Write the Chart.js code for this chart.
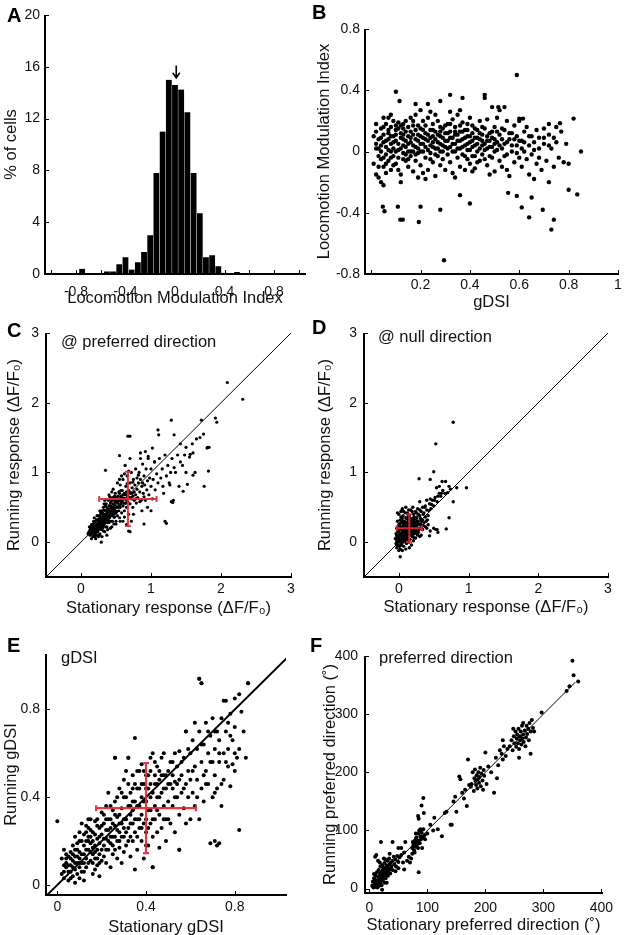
<!DOCTYPE html>
<html>
<head>
<meta charset="utf-8">
<script src="https://cdn.jsdelivr.net/npm/chart.js@4.4.1/dist/chart.umd.min.js"></script>
<style>
  body { margin: 0; background: #fff; width: 626px; height: 935px; position: relative; overflow: hidden;
         font-family: "Liberation Sans", Arial, sans-serif; color: #111; }
  canvas { position: absolute; }
  .letter { position: absolute; font-size: 20px; line-height: 20px; font-weight: bold; color: #000; }
  .note { position: absolute; font-size: 16.5px; line-height: 16.5px; white-space: nowrap; }
  .ax { position: absolute; background: #000; z-index: 5; }
</style>
</head>
<body>
<canvas id="cA" width="313" height="315" style="left:0;top:0"></canvas>
<canvas id="cB" width="313" height="315" style="left:313px;top:0"></canvas>
<canvas id="cC" width="313" height="310" style="left:0;top:315px"></canvas>
<canvas id="cD" width="313" height="310" style="left:313px;top:315px"></canvas>
<canvas id="cE" width="313" height="312" style="left:0;top:625px"></canvas>
<canvas id="cF" width="313" height="312" style="left:313px;top:625px"></canvas>

<!-- axis frames (box off): left and bottom edges of each plot area -->
<div class="ax" style="left:44px;top:15px;width:2px;height:260px"></div>
<div class="ax" style="left:44px;top:273px;width:262px;height:2px"></div>
<div class="ax" style="left:364px;top:29px;width:2px;height:246px"></div>
<div class="ax" style="left:364px;top:273px;width:255px;height:2px"></div>
<div class="ax" style="left:45px;top:333px;width:2px;height:245px"></div>
<div class="ax" style="left:45px;top:576px;width:247px;height:2px"></div>
<div class="ax" style="left:363px;top:333px;width:2px;height:245px"></div>
<div class="ax" style="left:363px;top:576px;width:246px;height:2px"></div>
<div class="ax" style="left:45px;top:654px;width:2px;height:242px"></div>
<div class="ax" style="left:45px;top:894px;width:242px;height:2px"></div>
<div class="ax" style="left:364px;top:656px;width:2px;height:238px"></div>
<div class="ax" style="left:364px;top:892px;width:239px;height:2px"></div>

<div class="letter" style="left:7px;top:5px">A</div>
<div class="letter" style="left:312px;top:2px">B</div>
<div class="letter" style="left:7px;top:320px">C</div>
<div class="letter" style="left:312px;top:317px">D</div>
<div class="letter" style="left:7px;top:635px">E</div>
<div class="letter" style="left:310px;top:635px">F</div>

<div class="note" style="left:61px;top:333px">@ preferred direction</div>
<div class="note" style="left:378px;top:328px">@ null direction</div>
<div class="note" style="left:61px;top:649px">gDSI</div>
<div class="note" style="left:379px;top:649px">preferred direction</div>

<script>
// A: histogram of locomotion modulation index
const binCenters = [-1,-0.95,-0.9,-0.85,-0.8,-0.75,-0.7,-0.65,-0.6,-0.55,-0.5,-0.45,-0.4,-0.35,-0.3,-0.25,-0.2,-0.15,-0.1,-0.05,
  0,0.05,0.1,0.15,0.2,0.25,0.3,0.35,0.4,0.45,0.5,0.55,0.6,0.65,0.7,0.75,0.8,0.85,0.9,0.95,1];
const pctCells = [0,0,0,0,0,0.4,0,0,0,0.2,0.2,0.75,1.3,0.35,0.9,1.7,3.0,7.8,11.0,15.0,
  14.6,14.25,12.5,7.8,4.7,1.3,1.45,0.6,0.1,0,0.15,0,0,0,0,0,0,0,0,0,0];
const meanArrow = { x: 0.01, from: 16.1, to: 15.15 };

// B: gDSI vs modulation index
const ptsB = [
  [0.01,0.10],[0.01,-0.08],[0.02,0.05],[0.02,0.13],[0.03,0.02],[0.03,-0.03],[0.03,0.08],[0.04,0.15],[0.04,-0.05],[0.04,0.0],
  [0.05,0.06],[0.05,0.11],[0.05,-0.1],[0.06,0.03],[0.06,0.18],[0.06,-0.02],[0.07,0.08],[0.07,0.12],[0.07,-0.06],[0.08,0.0],
  [0.08,0.05],[0.08,0.16],[0.08,-0.12],[0.09,0.1],[0.09,-0.03],[0.09,0.02],[0.1,0.14],[0.1,0.07],[0.1,-0.08],[0.11,0.01],
  [0.11,0.19],[0.11,-0.04],[0.12,0.09],[0.12,0.12],[0.12,-0.15],[0.13,0.04],[0.13,-0.01],[0.13,0.15],[0.14,0.07],[0.14,-0.06],
  [0.14,0.2],[0.15,0.1],[0.15,0.0],[0.15,-0.1],[0.15,0.05],[0.02,-0.15],[0.03,-0.17],[0.04,-0.2],[0.05,-0.22],[0.06,-0.14],
  [0.07,0.22],[0.05,0.22],[0.08,0.24],[0.12,-0.2],[0.1,0.17],[0.13,0.18],
  [0.16,0.13],[0.16,-0.03],[0.16,0.06],[0.17,0.17],[0.17,0.0],[0.17,-0.13],[0.18,0.08],[0.18,0.24],[0.18,-0.06],[0.19,0.11],
  [0.19,0.02],[0.19,-0.01],[0.2,0.15],[0.2,0.05],[0.2,-0.09],[0.21,0.2],[0.21,0.0],[0.21,0.09],[0.22,-0.04],[0.22,0.12],
  [0.22,0.03],[0.23,0.22],[0.23,-0.12],[0.23,0.07],[0.24,0.14],[0.24,-0.01],[0.24,0.04],[0.25,0.1],[0.25,-0.07],[0.25,0.18],
  [0.26,0.02],[0.26,0.13],[0.26,-0.16],[0.27,0.06],[0.27,-0.03],[0.27,0.2],[0.28,0.1],[0.28,-0.09],[0.28,0.0],[0.29,0.15],
  [0.29,0.04],[0.29,-0.05],[0.3,0.12],[0.3,-0.12],[0.3,0.07],[0.17,0.2],[0.19,-0.17],[0.21,-0.14],[0.26,0.24],[0.24,0.26],
  [0.2,0.27],[0.16,0.22],[0.28,0.16],[0.22,-0.18],[0.25,0.03],
  [0.31,0.02],[0.31,0.18],[0.31,-0.02],[0.32,0.09],[0.32,0.13],[0.32,-0.07],[0.33,0.05],[0.33,0.21],[0.33,-0.14],[0.34,0.11],
  [0.34,0.0],[0.34,0.16],[0.35,-0.04],[0.35,0.07],[0.35,0.24],[0.36,0.13],[0.36,0.02],[0.36,-0.1],[0.37,0.19],[0.37,0.08],
  [0.37,-0.02],[0.38,0.14],[0.38,0.04],[0.38,-0.12],[0.39,0.1],[0.39,-0.05],[0.39,0.01],[0.4,0.22],[0.4,0.06],[0.4,-0.08],
  [0.41,0.12],[0.41,0.03],[0.41,0.17],[0.42,-0.03],[0.42,0.09],[0.42,-0.11],[0.43,0.14],[0.43,0.05],[0.43,0.0],[0.44,0.2],
  [0.44,-0.06],[0.44,0.08],[0.45,0.11],[0.45,-0.02],[0.45,0.04],[0.32,0.26],[0.34,-0.17],[0.36,0.27],[0.39,0.18],[0.41,-0.13],
  [0.46,0.15],[0.46,0.01],[0.47,0.07],[0.47,-0.09],[0.47,0.21],[0.48,0.03],[0.48,0.12],[0.49,-0.04],[0.49,0.09],[0.5,0.16],
  [0.5,-0.13],[0.5,0.0],[0.51,0.06],[0.51,0.22],[0.52,-0.06],[0.52,0.11],[0.53,0.02],[0.53,-0.1],[0.54,0.14],[0.54,0.05],
  [0.55,-0.02],[0.55,0.2],[0.56,0.08],[0.56,-0.16],[0.57,0.12],[0.57,0.0],[0.58,-0.07],[0.58,0.17],[0.59,0.04],[0.59,0.1],
  [0.6,-0.04],[0.6,0.2],[0.52,0.27],[0.55,-0.12],[0.48,-0.15],
  [0.61,0.07],[0.61,-0.1],[0.62,0.13],[0.62,0.0],[0.63,-0.05],[0.63,0.16],[0.64,0.04],[0.64,-0.15],[0.65,0.1],[0.65,-0.02],
  [0.66,0.06],[0.66,-0.18],[0.67,0.14],[0.67,-0.08],[0.68,0.02],[0.68,0.09],[0.69,-0.12],[0.7,0.05],[0.7,0.15],[0.71,-0.06],
  [0.72,0.11],[0.72,-0.2],[0.73,0.02],[0.74,-0.1],[0.75,0.16],[0.75,0.06],[0.76,-0.04],[0.77,0.13],[0.78,-0.07],[0.79,0.05],
  [0.8,-0.08],
  [0.02,0.02],[0.02,0.18],[0.03,-0.1],[0.04,0.04],[0.04,0.09],[0.05,-0.04],[0.05,0.16],[0.06,0.07],[0.06,-0.08],[0.07,0.01],
  [0.07,0.14],[0.08,-0.04],[0.08,0.1],[0.09,0.06],[0.09,0.2],[0.09,-0.09],[0.1,0.0],[0.1,0.11],[0.11,0.05],[0.11,0.15],
  [0.11,-0.12],[0.12,0.02],[0.12,0.17],[0.13,0.08],[0.13,-0.05],[0.13,0.11],[0.14,0.03],[0.14,0.13],[0.14,-0.02],[0.15,0.16],
  [0.15,-0.05],[0.16,0.09],[0.16,0.0],[0.17,0.04],[0.17,0.11],[0.18,-0.02],[0.18,0.14],[0.18,0.03],[0.19,0.07],[0.19,0.17],
  [0.2,0.0],[0.2,0.1],[0.21,0.05],[0.21,0.14],[0.22,0.08],[0.22,0.17],[0.23,0.01],[0.23,0.11],[0.24,-0.05],[0.24,0.09],
  [0.25,0.06],[0.25,0.14],[0.26,-0.02],[0.26,0.08],[0.27,0.11],[0.27,0.02],[0.28,0.05],[0.28,0.13],[0.29,0.09],[0.29,0.0],
  [0.3,0.03],[0.3,0.17],[0.31,0.07],[0.31,0.12],[0.32,0.03],[0.32,0.18],[0.33,0.09],[0.33,0.0],[0.34,0.05],[0.34,0.13],
  [0.35,0.02],[0.35,0.11],[0.36,0.07],[0.36,0.17],[0.37,0.03],[0.37,0.13],[0.38,0.09],[0.38,-0.03],[0.39,0.05],[0.39,0.14],
  [0.4,0.01],[0.4,0.1],[0.41,0.07],[0.41,-0.03],[0.42,0.04],[0.42,0.15],[0.43,0.09],[0.43,-0.07],[0.44,0.02],[0.44,0.12],
  [0.45,0.07],[0.45,0.16],[0.46,0.05],[0.46,-0.05],[0.47,0.1],[0.47,0.02],[0.48,0.07],[0.48,-0.03],[0.49,0.13],[0.49,0.03],
  [0.5,0.08],[0.5,0.05],[0.51,0.01],[0.51,0.13],[0.52,0.04],[0.53,0.08],[0.53,0.15],[0.54,-0.03],[0.55,0.06],[0.56,0.12],
  [0.57,0.04],[0.58,0.08],[0.59,-0.01],[0.6,0.07],[0.62,0.06],[0.64,0.1],[0.66,0.01],[0.68,-0.04],[0.7,0.09],[0.72,0.04],
  [0.74,0.09],[0.61,0.02],
  [0.59,0.50],[0.10,0.39],[0.115,0.33],[0.32,0.37],[0.28,0.33],[0.46,0.37],[0.46,0.35],[0.37,0.35],[0.23,0.31],[0.18,0.31],
  [0.49,0.29],[0.515,0.29],[0.54,0.29],[0.295,-0.71],[0.047,-0.36],[0.054,-0.39],[0.108,-0.36],[0.118,-0.445],[0.128,-0.445],
  [0.2,-0.36],[0.193,-0.46],[0.28,-0.38],[0.40,-0.34],[0.36,-0.285],[0.555,-0.27],[0.59,-0.29],[0.61,-0.365],[0.65,-0.30],
  [0.64,-0.43],[0.695,-0.38],[0.74,-0.445],[0.73,-0.51],[0.80,-0.25],[0.835,-0.28],[0.85,0.0],[0.82,0.215],[0.765,0.185],
  [0.72,0.18],[0.615,0.215],[0.6,0.215]
];

// C: preferred direction responses
const ptsC = [
  [0.10,0.12],[0.12,0.15],[0.13,0.10],[0.14,0.20],[0.15,0.13],[0.16,0.18],[0.17,0.08],[0.17,0.25],[0.18,0.15],[0.19,0.22],
  [0.2,0.12],[0.2,0.3],[0.21,0.18],[0.22,0.25],[0.22,0.1],[0.23,0.2],[0.24,0.32],[0.24,0.15],[0.25,0.26],[0.26,0.2],
  [0.26,0.38],[0.27,0.12],[0.27,0.3],[0.28,0.24],[0.28,0.42],[0.29,0.18],[0.29,0.34],[0.3,0.27],[0.3,0.08],[0.3,0.45],
  [0.15,0.25],[0.18,0.3],[0.21,0.05],[0.25,0.08],[0.23,0.38],[0.12,0.22],[0.19,0.28],[0.26,0.28],[0.28,0.33],
  [0.31,0.2],[0.31,0.36],[0.32,0.3],[0.32,0.5],[0.33,0.25],[0.33,0.4],[0.34,0.15],[0.34,0.33],[0.35,0.45],[0.35,0.28],
  [0.36,0.38],[0.36,0.55],[0.37,0.22],[0.37,0.42],[0.38,0.32],[0.38,0.48],[0.39,0.36],[0.39,0.6],[0.4,0.28],[0.4,0.44],
  [0.41,0.52],[0.41,0.35],[0.42,0.4],[0.42,0.2],[0.43,0.58],[0.43,0.46],[0.44,0.3],[0.44,0.5],[0.45,0.38],[0.45,0.64],
  [0.46,0.44],[0.46,0.55],[0.47,0.26],[0.47,0.48],[0.48,0.6],[0.48,0.36],[0.49,0.52],[0.49,0.7],[0.5,0.42],[0.5,0.58],
  [0.33,0.55],[0.37,0.1],[0.44,0.72],[0.5,0.3],[0.41,0.65],[0.35,0.35],[0.47,0.4],
  [0.51,0.5],[0.52,0.65],[0.52,0.38],[0.53,0.56],[0.54,0.72],[0.54,0.45],[0.55,0.6],[0.56,0.5],[0.56,0.82],[0.57,0.66],
  [0.58,0.42],[0.58,0.58],[0.59,0.74],[0.6,0.52],[0.6,0.9],[0.61,0.63],[0.62,0.7],[0.62,0.45],[0.63,0.56],[0.64,0.8],
  [0.64,0.62],[0.65,0.5],[0.66,0.68],[0.66,0.95],[0.67,0.58],[0.68,0.74],[0.68,0.4],[0.69,0.64],[0.7,0.85],[0.7,0.55],
  [0.71,0.7],[0.72,0.62],[0.72,1.0],[0.73,0.78],[0.74,0.5],[0.74,0.66],[0.75,0.9],[0.76,0.72],[0.76,0.6],[0.77,0.82],
  [0.78,0.68],[0.78,1.05],[0.79,0.56],[0.8,0.76],[0.8,0.92],[0.55,0.35],[0.6,0.3],[0.65,0.25],[0.72,0.3],[0.58,0.95],
  [0.63,1.1],[0.7,1.2],[0.52,0.85],[0.75,0.4],
  [0.81,0.64],[0.82,0.85],[0.83,1.0],[0.84,0.72],[0.85,0.9],[0.86,0.6],[0.87,0.8],[0.88,1.12],[0.89,0.7],[0.9,0.95],
  [0.91,0.82],[0.92,0.6],[0.93,1.05],[0.94,0.75],[0.95,0.88],[0.96,1.2],[0.97,0.68],[0.98,0.92],[1.0,0.8],[1.0,1.05],
  [1.02,0.62],[1.03,0.9],[1.05,1.15],[1.06,0.75],[1.08,0.98],[1.1,0.85],[0.85,1.28],[0.92,1.3],[1.0,0.45],[0.95,0.5],
  [0.87,0.45],
  [1.12,1.2],[1.14,0.92],[1.16,1.05],[1.18,0.7],[1.2,1.25],[1.22,0.95],[1.24,1.1],[1.26,0.85],[1.3,1.2],[1.32,0.6],
  [1.35,1.0],[1.38,1.25],[1.4,0.8],[1.42,1.15],[1.48,1.25],[1.5,1.0],[1.55,1.22],[1.6,1.28],[1.63,1.0],[1.7,1.5],
  [1.75,1.55],[1.8,1.35],
  [0.11,0.14],[0.13,0.18],[0.14,0.12],[0.16,0.14],[0.16,0.22],[0.18,0.2],[0.18,0.1],[0.2,0.2],[0.2,0.16],[0.21,0.24],
  [0.22,0.14],[0.22,0.32],[0.23,0.24],[0.24,0.2],[0.24,0.28],[0.25,0.18],[0.25,0.33],[0.26,0.24],[0.27,0.26],[0.27,0.36],
  [0.28,0.2],[0.28,0.28],[0.29,0.3],[0.29,0.4],[0.3,0.22],[0.3,0.34],[0.31,0.28],[0.31,0.42],[0.32,0.24],[0.32,0.38],
  [0.33,0.33],[0.33,0.46],[0.34,0.28],[0.34,0.4],[0.35,0.52],[0.35,0.22],[0.36,0.32],[0.36,0.45],[0.37,0.36],[0.37,0.5],
  [0.38,0.28],[0.38,0.4],[0.39,0.44],[0.39,0.32],[0.4,0.52],[0.4,0.38],[0.41,0.44],[0.41,0.3],[0.42,0.48],[0.42,0.56],
  [0.43,0.38],[0.43,0.52],[0.44,0.42],[0.44,0.6],[0.45,0.48],[0.45,0.3],[0.46,0.5],[0.46,0.62],[0.47,0.54],[0.47,0.36],
  [0.48,0.46],[0.48,0.66],[0.49,0.58],[0.49,0.42],[0.5,0.5],[0.5,0.64],[0.51,0.56],[0.51,0.44],[0.52,0.58],[0.53,0.5],
  [0.53,0.66],[0.54,0.6],[0.55,0.52],[0.55,0.7],[0.56,0.62],[0.57,0.55],[0.57,0.74],[0.58,0.64],[0.59,0.6],[0.6,0.68],
  [0.61,0.56],[0.62,0.62],[0.63,0.68],[0.64,0.56],[0.65,0.72],[0.66,0.6],[0.67,0.66],[0.69,0.72],[0.71,0.64],[0.73,0.7],
  [0.15,0.05],[0.2,0.08],[0.26,0.1],[0.32,0.16],[0.38,0.18],[0.44,0.22],[0.5,0.26],[0.56,0.3],[0.62,0.36],[0.19,0.35],
  [0.27,0.45],[0.34,0.6],[0.4,0.68],[0.46,0.76],[0.55,0.9],[0.62,0.98],[0.68,1.02],[0.66,0.84],[0.74,0.86],[0.82,0.96],
  [0.88,0.85],[0.84,0.58],[0.78,0.62],[0.9,0.65],
  [2.09,2.29],[2.31,2.05],[1.72,1.75],[1.92,1.78],[1.94,1.72],[1.29,1.75],[1.33,1.54],[1.10,1.61],[1.11,1.54],[0.67,1.52],
  [0.70,1.52],[0.55,1.24],[0.35,1.03],[1.42,1.41],[1.50,1.36],[1.59,1.41],[1.65,1.48],[1.56,1.26],[1.81,1.36],[1.83,1.36],
  [1.82,1.02],[1.76,0.80],[1.60,0.96],[1.52,0.83],[1.46,0.73],[1.45,1.1],[1.28,1.0],[1.33,1.07],[1.27,0.82],[1.29,0.58],
  [1.31,0.57],[1.20,0.30],[1.22,0.27],[1.17,0.8],[0.90,0.26],[0.70,0.15],[0.68,0.16],[0.29,0.0],[1.02,1.35],[0.96,1.23],
  [1.05,1.15],[0.85,1.2]
];
const crossC = { x: 0.67, y: 0.62, ex: 0.41, ey: 0.39 };

// D: null direction responses
const ptsD = [
  [-0.05,0.05],[-0.04,-0.02],[-0.04,0.12],[-0.03,0.2],[-0.03,-0.08],[-0.02,0.08],[-0.02,0.3],[-0.01,0.0],[-0.01,0.15],[0.0,-0.05],
  [0.0,0.1],[0.0,0.25],[0.0,0.4],[0.01,0.05],[0.01,0.18],[0.02,-0.1],[0.02,0.12],[0.02,0.32],[0.03,0.02],[0.03,0.22],
  [0.04,0.08],[0.04,0.45],[0.04,-0.04],[0.05,0.15],[0.05,0.28],[0.06,0.0],[0.06,0.1],[0.06,0.38],[0.07,0.2],[0.07,-0.06],
  [0.08,0.06],[0.08,0.3],[0.08,0.14],[0.09,0.24],[0.09,0.02],[0.1,0.1],[0.1,0.35],[0.1,0.18],[0.11,-0.02],[0.11,0.28],
  [0.12,0.06],[0.12,0.2],[0.12,0.42],[0.13,0.14],[0.13,0.32],[0.14,0.0],[0.14,0.24],[0.15,0.1],[0.15,0.38],[0.15,0.18],
  [0.16,0.04],[0.16,0.28],[0.17,0.14],[0.17,0.46],[0.18,0.22],[0.18,-0.04],[0.19,0.08],[0.19,0.34],[0.2,0.18],[0.2,0.26],
  [0.21,0.02],[0.21,0.4],[0.22,0.12],[0.22,0.3],[0.23,0.2],[0.24,0.06],[0.24,0.44],[0.25,0.16],[0.25,0.34],[0.26,0.24],
  [0.27,0.1],[0.27,0.48],[0.28,0.3],[0.29,0.18],[0.3,0.38],[0.3,0.08],[0.31,0.26],[0.32,0.44],[0.33,0.2],[0.34,0.32],
  [0.35,0.4],[0.36,0.28],[0.37,0.5],[0.38,0.36],[0.4,0.46],[0.42,0.38],[0.44,0.55],[0.46,0.48],[0.48,0.6],[0.5,0.52],
  [0.52,0.64],[0.55,0.58],[0.58,0.7],[0.6,0.66],[0.63,0.74],[0.66,0.7],[0.34,0.18],[0.38,0.22],[0.4,0.2],[0.45,0.16],
  [0.42,0.25],[0.5,0.2],[0.55,0.18],[0.32,0.1],[-0.02,0.42],[0.05,0.48],[0.1,0.5],[0.14,0.46],[0.2,0.5],[0.0,-0.12],
  [0.05,-0.12],[0.1,-0.1],[0.15,-0.08],[0.03,0.36],[0.07,0.12],[0.09,0.16],[0.11,0.08],[0.13,0.22],[0.16,0.16],[0.18,0.12],
  [0.2,0.08],[0.22,0.22],[0.08,0.22],[0.06,0.26],[0.04,0.3],[0.12,0.28],[0.14,0.12],[0.17,0.3],[0.19,0.2],[0.23,0.28],
  [0.26,0.36],
  [-0.04,0.06],[-0.03,0.1],[-0.03,0.02],[-0.02,0.16],[-0.02,-0.04],[-0.01,0.07],[-0.01,0.22],[0.0,0.03],[0.0,0.16],[0.01,0.1],
  [0.01,0.26],[0.01,-0.06],[0.02,0.04],[0.02,0.2],[0.03,0.12],[0.03,0.28],[0.03,-0.02],[0.04,0.18],[0.04,0.04],[0.05,0.1],
  [0.05,0.22],[0.05,0.34],[0.06,0.06],[0.06,0.16],[0.07,0.28],[0.07,0.02],[0.08,0.18],[0.08,0.1],[0.09,0.28],[0.09,0.08],
  [0.1,0.22],[0.1,0.04],[0.11,0.14],[0.11,0.34],[0.12,0.16],[0.12,0.1],[0.13,0.26],[0.13,0.04],[0.14,0.18],[0.14,0.36],
  [0.15,0.26],[0.15,0.04],[0.16,0.22],[0.16,0.34],[0.17,0.1],[0.17,0.22],[0.18,0.28],[0.18,0.18],[0.19,0.14],[0.19,0.26],
  [0.2,0.32],[0.2,0.12],[0.21,0.22],[0.21,0.16],[0.22,0.36],[0.22,0.06],[0.23,0.14],[0.23,0.34],[0.24,0.24],[0.24,0.16],
  [0.25,0.26],[0.26,0.12],[0.26,0.3],[0.27,0.2],[0.28,0.4],[0.28,0.14],[0.29,0.26],[0.3,0.2],[0.31,0.34],[0.32,0.24],
  [0.33,0.3],[0.35,0.24],[0.36,0.42],[0.39,0.3],[0.41,0.32],[0.43,0.45],[0.47,0.54],[0.51,0.6],[0.56,0.66],[0.61,0.7],
  [0.09,0.42],[0.07,0.44],[0.03,0.44],[0.13,0.4],[0.19,0.44],[0.25,0.42],[0.3,0.46],[0.34,0.5],[0.38,0.52],
  [0.78,1.72],[0.53,1.41],[0.50,1.01],[0.29,0.91],[0.45,0.9],[0.62,0.87],[0.67,0.87],[0.54,0.78],[0.58,0.8],[0.70,0.71],
  [0.83,0.78],[0.97,0.78],[0.78,0.58],[0.72,0.35],[0.68,0.19],[0.53,0.18],[0.56,0.14],[0.44,0.09],[0.02,-0.21],[0.4,0.6],
  [0.45,0.62],[0.3,0.58],[0.74,0.76],[0.72,0.8]
];
const crossD = { x: 0.15, y: 0.2, ex: 0.18, ey: 0.2 };

// E: gDSI stationary vs running
const ptsE = [
  [0.02,0.05],[0.02,0.12],[0.03,0.03],[0.03,0.16],[0.04,0.08],[0.04,0.1],[0.05,0.06],[0.05,0.13],[0.05,0.02],[0.06,0.09],
  [0.06,0.15],[0.07,0.04],[0.07,0.11],[0.07,0.18],[0.08,0.07],[0.08,0.13],[0.08,0.22],[0.09,0.1],[0.09,0.05],[0.09,0.16],
  [0.1,0.12],[0.1,0.08],[0.1,0.2],[0.1,0.24],[0.04,0.14],[0.06,0.03],[0.03,0.09],[0.08,0.01],[0.1,0.03],
  [0.11,0.14],[0.11,0.06],[0.11,0.28],[0.12,0.1],[0.12,0.18],[0.12,0.23],[0.13,0.12],[0.13,0.2],[0.13,0.08],[0.14,0.16],
  [0.14,0.26],[0.14,0.3],[0.15,0.11],[0.15,0.19],[0.15,0.22],[0.16,0.14],[0.16,0.05],[0.16,0.24],[0.17,0.18],[0.17,0.12],
  [0.17,0.29],[0.18,0.16],[0.18,0.21],[0.18,0.09],[0.19,0.26],[0.19,0.14],[0.19,0.19],[0.2,0.11],[0.2,0.23],[0.2,0.33],
  [0.13,0.24],[0.15,0.3],[0.17,0.07],[0.19,0.04],[0.12,0.02],[0.14,0.2],[0.16,0.17],[0.18,0.27],
  [0.21,0.18],[0.21,0.28],[0.21,0.13],[0.22,0.36],[0.22,0.21],[0.22,0.1],[0.23,0.25],[0.23,0.16],[0.23,0.42],[0.24,0.3],
  [0.24,0.19],[0.24,0.08],[0.25,0.22],[0.25,0.34],[0.25,0.14],[0.26,0.27],[0.26,0.38],[0.26,0.58],[0.27,0.2],[0.27,0.12],
  [0.27,0.31],[0.28,0.24],[0.28,0.44],[0.28,0.17],[0.29,0.35],[0.29,0.28],[0.29,0.1],[0.3,0.22],[0.3,0.4],[0.3,0.15],
  [0.22,0.3],[0.24,0.26],[0.28,0.32],[0.3,0.48],[0.26,0.16],
  [0.31,0.3],[0.31,0.18],[0.31,0.52],[0.32,0.26],[0.32,0.36],[0.32,0.58],[0.33,0.13],[0.33,0.42],[0.33,0.28],[0.34,0.2],
  [0.34,0.34],[0.34,0.5],[0.35,0.24],[0.35,0.38],[0.35,0.67],[0.35,0.07],[0.36,0.3],[0.36,0.44],[0.36,0.16],[0.37,0.26],
  [0.37,0.36],[0.37,0.52],[0.38,0.2],[0.38,0.4],[0.38,0.32],[0.39,0.46],[0.39,0.28],[0.39,0.12],[0.4,0.38],[0.4,0.24],
  [0.4,0.5],[0.33,0.32],[0.36,0.22],[0.38,0.55],[0.34,0.44],[0.4,0.3],
  [0.41,0.34],[0.41,0.44],[0.41,0.18],[0.42,0.28],[0.42,0.52],[0.42,0.4],[0.43,0.08],[0.43,0.22],[0.43,0.6],[0.44,0.36],
  [0.44,0.46],[0.44,0.3],[0.45,0.54],[0.45,0.24],[0.45,0.4],[0.46,0.32],[0.46,0.48],[0.46,0.17],[0.47,0.42],[0.47,0.58],
  [0.47,0.26],[0.48,0.36],[0.48,0.5],[0.48,0.6],[0.49,0.3],[0.49,0.44],[0.49,0.2],[0.5,0.52],[0.5,0.38],[0.5,0.46],
  [0.44,0.56],[0.46,0.52],[0.48,0.44],[0.42,0.46],
  [0.51,0.28],[0.51,0.56],[0.52,0.44],[0.52,0.36],[0.52,0.5],[0.53,0.6],[0.53,0.24],[0.54,0.4],[0.54,0.54],[0.54,0.46],
  [0.55,0.32],[0.55,0.61],[0.55,0.16],[0.56,0.5],[0.56,0.42],[0.57,0.58],[0.57,0.35],[0.58,0.7],[0.58,0.46],[0.58,0.28],
  [0.59,0.52],[0.59,0.4],[0.6,0.6],[0.6,0.3],[0.6,0.48],[0.56,0.56],[0.53,0.47],
  [0.61,0.42],[0.61,0.66],[0.62,0.54],[0.62,0.36],[0.63,0.62],[0.63,0.48],[0.64,0.7],[0.64,0.3],[0.64,0.94],[0.65,0.56],
  [0.65,0.92],[0.65,0.44],[0.66,0.64],[0.66,0.38],[0.67,0.74],[0.67,0.52],[0.68,0.6],[0.68,0.46],[0.69,0.68],[0.69,0.19],
  [0.7,0.56],[0.7,0.76],[0.7,0.4],[0.62,0.74],[0.66,0.5],[0.68,0.7],
  [0.71,0.62],[0.71,0.5],[0.72,0.7],[0.72,0.18],[0.72,0.44],[0.73,0.66],[0.73,0.56],[0.74,0.76],[0.74,0.36],[0.75,0.6],
  [0.75,0.84],[0.75,0.48],[0.76,0.7],[0.76,0.84],[0.77,0.54],[0.77,0.62],[0.78,0.78],[0.78,0.45],[0.79,0.66],[0.79,0.55],
  [0.8,0.72],[0.8,0.85],[0.8,0.6],[0.81,0.58],[0.82,0.87],[0.82,0.62],[0.82,0.25],[0.83,0.79],[0.84,0.7],[0.85,0.58],
  [0.86,0.92],[0.73,0.19],
  [0.03,0.06],[0.04,0.12],[0.05,0.09],[0.06,0.12],[0.06,0.06],[0.07,0.08],[0.07,0.14],[0.08,0.1],[0.08,0.16],[0.09,0.13],
  [0.09,0.19],[0.1,0.15],[0.1,0.1],[0.11,0.2],[0.11,0.1],[0.12,0.14],[0.12,0.06],[0.13,0.16],[0.13,0.27],[0.14,0.1],
  [0.14,0.22],[0.15,0.15],[0.15,0.25],[0.16,0.2],[0.16,0.1],[0.17,0.15],[0.17,0.23],[0.18,0.12],[0.18,0.3],[0.19,0.22],
  [0.19,0.1],[0.2,0.16],[0.2,0.27],[0.21,0.21],[0.21,0.32],[0.22,0.16],[0.22,0.25],[0.23,0.2],[0.23,0.3],[0.24,0.22],
  [0.24,0.36],[0.25,0.18],[0.25,0.28],[0.26,0.22],[0.26,0.32],[0.27,0.25],[0.27,0.4],[0.28,0.2],[0.28,0.28],[0.29,0.22],
  [0.29,0.42],[0.3,0.3],[0.3,0.26],[0.31,0.24],[0.31,0.4],[0.32,0.2],[0.32,0.46],[0.33,0.36],[0.33,0.22],[0.34,0.28],
  [0.34,0.38],[0.35,0.3],[0.35,0.46],[0.36,0.36],[0.36,0.52],[0.37,0.3],[0.37,0.44],[0.38,0.26],[0.38,0.46],[0.39,0.38],
  [0.39,0.52],[0.4,0.44],[0.4,0.18],[0.41,0.5],[0.41,0.26],[0.42,0.34],[0.42,0.58],[0.43,0.42],[0.43,0.3],[0.44,0.5],
  [0.45,0.34],[0.45,0.46],[0.46,0.4],[0.47,0.5],[0.48,0.3],[0.49,0.5],[0.5,0.3],[0.51,0.46],[0.52,0.56],[0.53,0.4],
  [0.55,0.48],[0.57,0.44],[0.59,0.62],[0.61,0.52],[0.63,0.4],[0.65,0.64],[0.67,0.46],[0.69,0.56],[0.71,0.7],[0.73,0.6],
  [0.76,0.56],[0.78,0.68],[0.8,0.52],[0.77,0.74],[0.71,0.42],[0.74,0.46],
  [0.64,0.94],[0.65,0.92],[0.86,0.92],[0.0,0.29],[0.43,0.08],[0.71,0.2],[0.55,0.16],[0.58,0.70],[0.26,0.58],[0.32,0.58]
];
const crossE = { x: 0.40, y: 0.35, ex: 0.225, ey: 0.205 };

// F: preferred direction stationary vs running (degrees)
const ptsF = [
  [5,5],[6,12],[7,2],[8,18],[9,8],[10,15],[10,3],[11,22],[12,10],[12,6],[13,28],[14,14],[14,2],[15,20],[15,9],[16,32],
  [16,12],[17,5],[18,24],[18,16],[19,38],[19,10],[20,18],[20,28],[21,6],[22,40],[22,22],[23,14],[23,32],[24,26],[25,20],
  [25,36],[26,10],[26,44],[27,28],[28,18],[28,34],[29,24],[30,40],[30,30],[31,48],[32,22],[32,36],[33,28],[34,52],[35,42],
  [35,33],[36,26],[37,45],[38,38],[40,48],[40,32],[42,55],[43,42],[45,50],[46,38],[48,56],[50,46],[50,70],[52,54],[55,58],
  [58,45],[60,62],[10,55],[12,58],[20,80],[25,52],[40,80],[45,30],[60,33],[85,28],[22,-2],[8,25],[15,48],[30,10],[18,45],
  [28,50],[35,60],[55,70],[62,80],[50,35],
  [65,48],[68,55],[70,45],[72,52],[74,70],[75,80],[76,75],[77,66],[78,82],[79,78],[80,72],[80,85],[81,88],[82,76],[83,80],
  [84,95],[84,70],[85,82],[86,100],[87,78],[88,90],[89,85],[90,96],[91,70],[92,88],[93,102],[95,92],[85,120],[84,125],
  [94,130],[90,143],[93,156],[74,60],[78,62],[88,102],[80,95],[96,85],[100,95],
  [105,110],[110,100],[112,122],[118,102],[125,90],[130,130],[133,132],[140,110],[142,110],[145,150],[148,158],[150,132],
  [155,193],[157,188],[160,165],[163,155],[165,170],[168,142],[170,222],[172,178],[175,175],
  [176,180],[178,200],[180,168],[181,190],[182,205],[183,185],[184,178],[185,195],[186,172],[187,188],[188,200],[189,182],
  [190,192],[191,208],[192,176],[193,198],[195,186],[196,170],[197,204],[198,194],[200,234],[202,180],[205,210],[210,200],
  [215,165],[218,225],[220,190],[222,212],[225,238],[228,232],[230,222],[232,245],[235,228],[230,255],[238,240],
  [242,245],[245,255],[247,238],[249,262],[250,250],[252,270],[253,244],[254,258],[255,265],[256,250],[257,275],[258,240],
  [259,262],[260,255],[261,270],[262,248],[263,280],[264,258],[265,265],[266,252],[268,272],[269,245],[270,260],[271,280],
  [272,266],[274,275],[275,255],[276,285],[278,270],[280,290],[282,276],[284,270],[278,232],[258,225],[265,285],[248,275],
  [297,303],[345,348],[350,392],[352,367],[360,356],[340,340]
];

Chart.defaults.font.family = '"Liberation Sans", Arial, sans-serif';
Chart.defaults.font.size = 14;
Chart.defaults.color = '#111';
Chart.defaults.animation = false;
Chart.defaults.plugins.legend.display = false;
Chart.defaults.plugins.tooltip.enabled = false;

// short inward tick marks at each scale tick
const tickMarks = {
  id: 'tickMarks',
  afterDatasetsDraw(chart) {
    const ctx = chart.ctx;
    const a = chart.chartArea;
    const xs = chart.scales.x, ys = chart.scales.y;
    ctx.save();
    ctx.strokeStyle = '#000';
    ctx.lineWidth = 1;
    ctx.beginPath();
    for (const t of xs.ticks) {
      const p = Math.round(xs.getPixelForValue(t.value)) + 0.5;
      ctx.moveTo(p, a.bottom);
      ctx.lineTo(p, a.bottom - 4);
    }
    for (const t of ys.ticks) {
      const p = Math.round(ys.getPixelForValue(t.value)) + 0.5;
      ctx.moveTo(a.left, p);
      ctx.lineTo(a.left + 4, p);
    }
    ctx.stroke();
    ctx.restore();
  }
};

function axis(o) {
  const shown = o.labels || o.ticks;
  return {
    type: 'linear', min: o.min, max: o.max, offset: false,
    border: { display: false },
    grid: { display: false, drawTicks: false, offset: false },
    ticks: { padding: o.pad, autoSkip: false, maxRotation: 0, color: '#111',
             callback: v => shown.includes(v) ? String(v) : '' },
    afterBuildTicks: s => { s.ticks = o.ticks.map(v => ({ value: v })); },
    afterFit: s => { if (o.w) s.width = o.w; if (o.h) s.height = o.h; },
    title: { display: true, text: o.title, color: '#111', font: { size: 16.5 }, padding: { top: o.tpad, bottom: o.tpad } }
  };
}

function crossPlugin(c, width) {
  return {
    id: 'cross',
    afterDatasetsDraw(chart) {
      const { ctx, scales: { x, y } } = chart;
      const cx = x.getPixelForValue(c.x), cy = y.getPixelForValue(c.y);
      const xl = x.getPixelForValue(c.x - c.ex), xr = x.getPixelForValue(c.x + c.ex);
      const yt = y.getPixelForValue(c.y + c.ey), yb = y.getPixelForValue(c.y - c.ey);
      const cap = 3;
      ctx.save();
      ctx.strokeStyle = 'rgba(228,40,48,0.92)';
      ctx.lineWidth = width;
      ctx.beginPath();
      ctx.moveTo(xl, cy); ctx.lineTo(xr, cy);
      ctx.moveTo(cx, yt); ctx.lineTo(cx, yb);
      ctx.moveTo(xl, cy - cap); ctx.lineTo(xl, cy + cap);
      ctx.moveTo(xr, cy - cap); ctx.lineTo(xr, cy + cap);
      ctx.moveTo(cx - cap, yt); ctx.lineTo(cx + cap, yt);
      ctx.moveTo(cx - cap, yb); ctx.lineTo(cx + cap, yb);
      ctx.stroke();
      ctx.restore();
    }
  };
}

const arrowPlugin = {
  id: 'arrow',
  afterDatasetsDraw(chart) {
    const { ctx, scales: { x, y } } = chart;
    const px = x.getPixelForValue(meanArrow.x);
    const y0 = y.getPixelForValue(meanArrow.from), y1 = y.getPixelForValue(meanArrow.to);
    ctx.save();
    ctx.strokeStyle = '#000';
    ctx.lineWidth = 1.6;
    ctx.beginPath();
    ctx.moveTo(px, y0); ctx.lineTo(px, y1 - 1);
    ctx.moveTo(px - 3.5, y1 - 5); ctx.lineTo(px, y1); ctx.lineTo(px + 3.5, y1 - 5);
    ctx.stroke();
    ctx.restore();
  }
};

const toXY = pts => pts.map(([x, y]) => ({ x, y }));

// A
new Chart(document.getElementById('cA'), {
  type: 'bar',
  data: {
    datasets: [{
      data: binCenters.map((x, i) => ({ x, y: pctCells[i] })),
      backgroundColor: '#000',
      borderColor: 'rgba(255,255,255,0.45)',
      borderWidth: { left: 0.5, right: 0.5, top: 0, bottom: 0 },
      barPercentage: 1, categoryPercentage: 1
    }]
  },
  options: {
    responsive: false,
    layout: { padding: { top: 15, right: 8, left: 0, bottom: 0 } },
    scales: {
      x: axis({ min: -1.05, max: 1.05, ticks: [-1,-0.8,-0.6,-0.4,-0.2,0,0.2,0.4,0.6,0.8,1], labels: [-0.8,-0.4,0,0.4,0.8],
                pad: 10, h: 41, title: 'Locomotion Modulation Index', tpad: 7 }),
      y: axis({ min: 0, max: 20, ticks: [0,4,8,12,16,20], pad: 5, w: 45, title: '% of cells', tpad: 2 })
    }
  },
  plugins: [tickMarks, arrowPlugin]
});

function scatter(id, o) {
  const datasets = [{ data: toXY(o.pts), pointRadius: o.r, backgroundColor: '#000', borderWidth: 0 }];
  if (o.diag) {
    datasets.push({ data: toXY(o.diag), showLine: true, borderColor: '#000', borderWidth: o.diagW, pointRadius: 0 });
  }
  const plugins = [tickMarks];
  if (o.cross) plugins.push(crossPlugin(o.cross, o.crossW));
  new Chart(document.getElementById(id), {
    type: 'scatter',
    data: { datasets },
    options: {
      responsive: false,
      layout: { padding: o.padding },
      scales: { x: axis(o.x), y: axis(o.y) }
    },
    plugins
  });
}

scatter('cB', {
  pts: ptsB, r: 2.2, padding: { top: 29, right: 8, left: 0, bottom: 0 },
  x: { min: -0.025, max: 1.0, ticks: [0,0.2,0.4,0.6,0.8,1], labels: [0.2,0.4,0.6,0.8,1], pad: 3, h: 41, title: 'gDSI', tpad: 3 },
  y: { min: -0.8, max: 0.8, ticks: [-0.8,-0.4,0,0.4,0.8], pad: 5, w: 52, title: 'Locomotion Modulation Index', tpad: 2 }
});

scatter('cC', {
  pts: ptsC, r: 1.6, padding: { top: 18, right: 22, left: 0, bottom: 0 },
  diag: [[-0.5,-0.5],[3,3]], diagW: 1, cross: crossC, crossW: 2,
  x: { min: -0.5, max: 3, ticks: [0,1,2,3], pad: 4, h: 48, title: 'Stationary response (ΔF/F₀)', tpad: 7 },
  y: { min: -0.5, max: 3, ticks: [0,1,2,3], pad: 7, w: 46, title: 'Running response (ΔF/F₀)', tpad: 5 }
});

scatter('cD', {
  pts: ptsD, r: 1.7, padding: { top: 18, right: 18, left: 0, bottom: 0 },
  diag: [[-0.5,-0.5],[3,3]], diagW: 1, cross: crossD, crossW: 2,
  x: { min: -0.5, max: 3, ticks: [0,1,2,3], pad: 4, h: 48, title: 'Stationary response (ΔF/F₀)', tpad: 8 },
  y: { min: -0.5, max: 3, ticks: [0,1,2,3], pad: 7, w: 51, title: 'Running response (ΔF/F₀)', tpad: 3 }
});

scatter('cE', {
  pts: ptsE, r: 2, padding: { top: 29, right: 27, left: 0, bottom: 0 },
  diag: [[-0.05,-0.05],[1.04,1.04]], diagW: 2, cross: crossE, crossW: 2.2,
  x: { min: -0.051, max: 1.031, ticks: [0,0.4,0.8], pad: 4, h: 42, title: 'Stationary gDSI', tpad: 0 },
  y: { min: -0.046, max: 1.053, ticks: [0,0.4,0.8], pad: 6, w: 46, title: 'Running gDSI', tpad: 2 }
});

scatter('cF', {
  pts: ptsF, r: 2, padding: { top: 31, right: 24, left: 0, bottom: 0 },
  diag: [[10,10],[355,355]], diagW: 1,
  x: { min: -7.5, max: 401, ticks: [0,100,200,300,400], pad: 7, h: 44, title: 'Stationary preferred direction (˚)', tpad: 2 },
  y: { min: -7.5, max: 400, ticks: [0,100,200,300,400], pad: 7, w: 52, title: 'Running preferred direction (˚)', tpad: 8 }
});
</script>
</body>
</html>
